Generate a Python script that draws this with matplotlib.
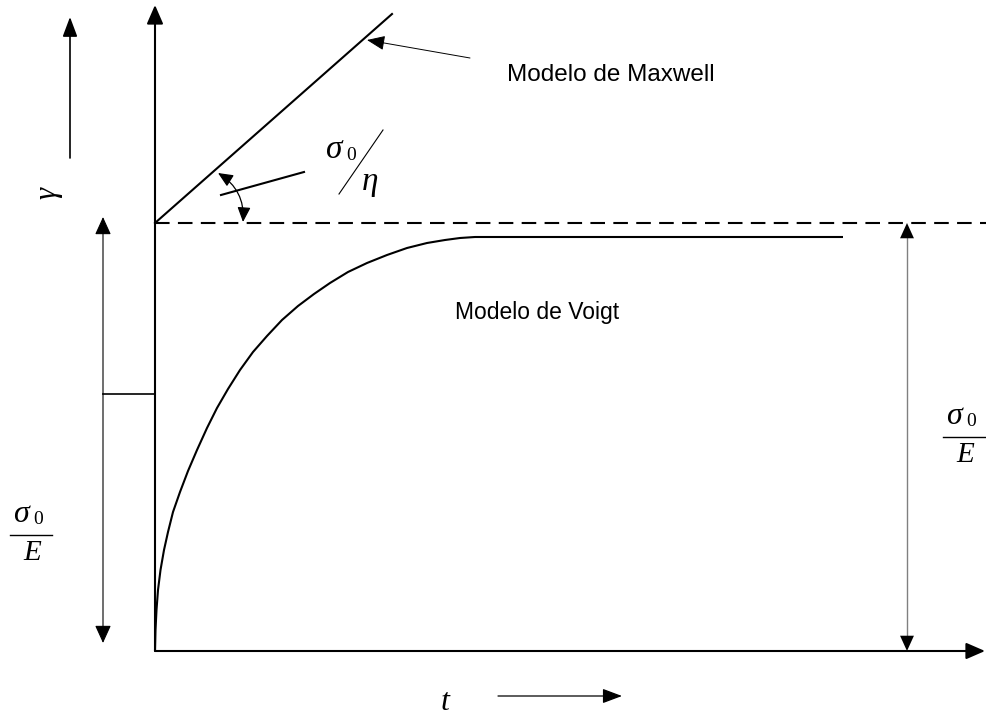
import matplotlib
matplotlib.use("Agg")
import matplotlib.pyplot as plt

# creep curves: time / strain in drawing units (origin at the axes corner)
voigt_t = [0, 0.5, 1.5, 3, 5.5, 9, 13, 18, 25, 33, 42, 52, 62, 73, 85, 98, 112, 127,
           143, 159, 175, 193, 212, 232, 252, 272, 290, 305, 320, 688]
voigt_y = [0, 21, 41, 61, 81, 101, 119, 139, 159, 180, 201, 223, 243, 262, 281, 299, 315, 331,
           345, 357, 368, 379, 388, 396, 403, 408, 411, 413, 414, 414]
maxwell_t = [0, 237]
maxwell_y = [428, 637]
elastic_level = 428          # sigma0 / E
t_max = 832
gamma_max = 646

SERIF = "Liberation Serif"
SANS = "Liberation Sans"


def arrow(ax, start, tip, lw=1.5, color="k", head=(1.15, 0.5), scale=10, style="-|>"):
    ax.annotate("", xy=tip, xytext=start,
                arrowprops=dict(arrowstyle=f"{style},head_length={head[0]},head_width={head[1]}",
                                lw=lw, color=color, mutation_scale=scale,
                                shrinkA=0, shrinkB=0))


def greek(x, y, s, size=22, **kw):
    ax.text(x, y, s, family=SERIF, style="italic", fontsize=size,
            ha="center", va="center", **kw)


fig = plt.figure(figsize=(9.87, 7.21), dpi=100)
ax = fig.add_axes([0, 0, 1, 1])
ax.set_xlim(-155, 832)
ax.set_ylim(-70, 651)
ax.axis("off")

# axes with arrowheads
arrow(ax, (0, 0), (0, gamma_max))
arrow(ax, (0, 0), (t_max - 2, 0))

# elastic level (dashed) and the two models
ax.plot([0, t_max], [elastic_level, elastic_level], color="k", lw=1.5, ls=(0, (7, 4)))
ax.plot(maxwell_t, maxwell_y, color="k", lw=1.5)
ax.plot(voigt_t, voigt_y, color="k", lw=1.5, solid_capstyle="butt", solid_joinstyle="round")

# slope marker for the Maxwell line
ax.annotate("", xy=(88, 429), xytext=(63, 478),
            arrowprops=dict(arrowstyle="<|-|>,head_length=0.9,head_width=0.4",
                            connectionstyle="arc3,rad=-0.3", lw=0.9, color="k",
                            mutation_scale=10, shrinkA=0, shrinkB=0))
ax.plot([66, 149], [456, 479], color="k", lw=1.5)
greek(179, 501, "σ", size=24)
ax.text(196, 496, "0", family=SERIF, fontsize=14, ha="center", va="center")
ax.plot([184, 228], [457, 521], color="k", lw=0.8)
greek(215, 469, "η", size=24)

# model labels
arrow(ax, (315, 593), (212, 611), lw=0.7, head=(1.1, 0.45))
ax.text(352, 576, "Modelo de Maxwell", family=SANS, fontsize=17.5, ha="left", va="center")
ax.text(300, 339, "Modelo de Voigt", family=SANS, fontsize=16.5, ha="left", va="center")

# left dimension arrow
arrow(ax, (-52, 257), (-52, 434), lw=0.8, head=(1.1, 0.5))
arrow(ax, (-52, 257), (-52, 8), lw=0.8, head=(1.1, 0.5))
ax.plot([-52, 0], [257, 257], color="k", lw=1.2)

# right dimension arrow
ax.plot([752, 752], [8, 420], color="0.5", lw=1.0)
arrow(ax, (752, 200), (752, elastic_level), lw=0.0, head=(1.1, 0.5))
arrow(ax, (752, 200), (752, 0), lw=0.0, head=(1.1, 0.5))


def fraction(x, y):
    # sigma_0 over E, centred on the fraction bar at (x, y)
    greek(x - 10, y + 20, "σ", size=23)
    ax.text(x + 7, y + 16, "0", family=SERIF, fontsize=14, ha="center", va="center")
    ax.plot([x - 21, x + 21], [y, y], color="k", lw=1.0)
    greek(x + 1, y - 18, "E", size=21)


fraction(-124, 116)
fraction(809, 214)

# axis labels
greek(-107, 458, "γ", size=22, rotation=90)
arrow(ax, (-85, 493), (-85, 634), lw=1.2, head=(1.2, 0.45))
greek(290, -52, "t", size=23)
arrow(ax, (343, -45), (467, -45), lw=0.9, head=(1.2, 0.45))

fig.savefig("out.png", dpi=100)
